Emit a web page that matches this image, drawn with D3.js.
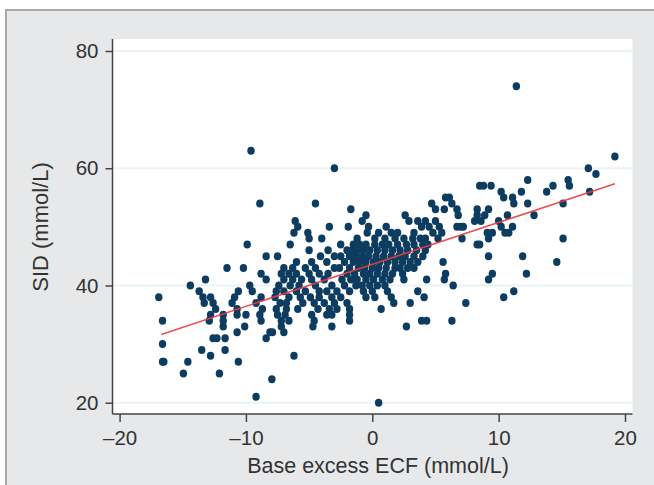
<!DOCTYPE html>
<html>
<head>
<meta charset="utf-8">
<script src="https://cdn.jsdelivr.net/npm/d3@7"></script>
<style>
  body { margin: 0; background: #fff; }
  svg { display: block; }
  text { font-family: "Liberation Sans", Arial, sans-serif; fill: #333; }
</style>
</head>
<body>
<svg></svg>
<script>
// SID levels (mmol/L) and the base excess values observed at each level
const sidLevels = [74, 63, 62, 60, 59, 58, 57, 56, 55, 54, 53, 52, 51, 50, 49, 48, 47, 46, 45, 44,
  43, 42, 41, 40, 39, 38, 37, 36, 35, 34, 33, 32, 31, 30, 29, 28, 27, 25, 24, 21, 20];

const baseExcessAtLevel = [
  [11.4],
  [-9.6],
  [19.2],
  [-3.0, 17.1],
  [17.7],
  [12.3, 15.5],
  [8.5, 8.8, 9.4, 14.3, 15.6],
  [10.2, 11.8, 13.8, 17.2],
  [5.8, 6.1, 10.4, 11.1],
  [-8.9, -4.5, 4.7, 6.3, 11.2, 12.3, 15.1],
  [-1.7, 5.0, 5.7, 6.7, 8.3, 9.2],
  [-0.5, 2.6, 6.8, 8.3, 8.9, 10.7, 12.8],
  [-6.1, -0.8, 2.9, 3.6, 4.2, 5.0, 8.1, 8.6, 10.0],
  [-5.9, -3.4, -1.9, -0.3, 1.1, 3.9, 4.5, 5.3, 6.7, 7.0, 7.2, 10.2, 11.1],
  [-6.2, -5.1, -0.4, 0.5, 1.5, 2.0, 3.3, 4.8, 5.5, 9.1, 9.5, 10.5, 10.8],
  [-5.0, -4.0, -1.2, 0.2, 1.0, 1.8, 2.5, 3.2, 3.8, 4.2, 5.2, 7.1, 9.2, 15.1],
  [-9.9, -6.5, -2.5, -1.5, -1.0, -0.5, 0.2, 0.8, 1.3, 2.0, 2.7, 3.3, 4.0, 4.4, 8.3, 8.5],
  [-5.0, -3.5, -2.0, -1.6, -1.2, -0.7, -0.2, 0.4, 1.0, 1.6, 2.2, 2.8, 3.5, 4.2],
  [-8.4, -7.5, -4.1, -3.0, -2.5, -1.8, -1.3, -0.8, -0.3, 0.3, 0.9, 1.5, 2.1, 2.6, 3.3, 4.0, 9.2, 11.9],
  [-6.0, -4.8, -3.6, -2.2, -1.5, -1.0, -0.5, 0.1, 0.6, 1.2, 1.8, 2.4, 3.0, 3.6, 5.6, 14.6],
  [-11.5, -10.2, -7.0, -6.3, -5.3, -4.5, -3.0, -2.6, -1.8, -1.1, -0.6, 0.0, 0.5, 1.1, 1.8, 2.2, 2.8, 3.3],
  [-8.8, -7.2, -6.6, -6.0, -5.0, -4.2, -3.5, -2.0, -1.4, -0.7, -0.2, 0.4, 1.0, 1.6, 2.4, 5.8, 9.5, 12.2],
  [-13.2, -8.4, -7.0, -6.3, -5.6, -4.8, -3.8, -2.4, -1.7, -1.2, -0.5, 0.1, 0.8, 1.4, 2.5, 4.3, 5.7, 9.2],
  [-14.4, -9.7, -7.4, -6.5, -5.8, -4.5, -3.2, -2.2, -1.3, -0.8, -0.2, 0.4, 1.0, 6.4],
  [-13.7, -10.6, -9.5, -7.6, -7.0, -6.0, -5.3, -4.2, -3.6, -2.8, -1.8, -0.7, 0.0, 1.2, 3.6, 11.2],
  [-16.9, -13.4, -12.8, -10.9, -8.8, -7.7, -6.6, -5.7, -4.9, -4.2, -3.2, -2.5, -0.5, 0.2, 1.5, 4.1, 10.4],
  [-13.3, -12.6, -11.1, -9.2, -7.3, -6.8, -5.5, -4.6, -3.8, -3.0, -2.0, 1.7, 3.0, 7.4],
  [-12.4, -10.7, -8.7, -7.6, -6.8, -5.9, -4.3, -3.4, -2.8, -1.8, 0.7],
  [-12.8, -11.8, -10.7, -10.0, -8.9, -7.5, -6.9, -4.8, -3.6, -3.2, -1.8],
  [-16.6, -12.9, -11.8, -8.8, -7.2, -6.6, -4.6, -1.8, 3.9, 4.3, 6.3],
  [-11.8, -10.1, -7.2, -4.7, -3.2, 2.7],
  [-10.7, -8.1, -7.9, -7.0],
  [-12.6, -12.3, -11.65, -8.4],
  [-16.6],
  [-13.5, -11.65],
  [-12.8, -6.2],
  [-16.6, -16.5, -14.6, -10.6],
  [-14.95, -12.1],
  [-7.95],
  [-9.2],
  [0.5]
];

// linear fit
const fitIntercept = 43.6;
const fitSlope = 0.716;

const xTicks = [-20, -10, 0, 10, 20];
const yTicks = [20, 40, 60, 80];

const width = 654;
const height = 485;

const svg = d3.select("svg")
    .attr("width", width)
    .attr("height", height);

// plot box
const plotLeft = 112.5, plotRight = 632.5, plotTop = 39, plotBottom = 414;

const x = d3.scaleLinear().domain([-20, 20]).range([119.6, 625]);
const y = d3.scaleLinear().domain([20, 80]).range([402.7, 51]);

const points = [];
sidLevels.forEach((s, i) => {
    baseExcessAtLevel[i].forEach(be => points.push({ be: be, sid: s }));
});

// outer grey panel
svg.append("rect")
    .attr("x", 6).attr("y", 10)
    .attr("width", width + 10).attr("height", height + 10)
    .attr("fill", "#e7e8ea")
    .attr("stroke", "#a8a8a8")
    .attr("stroke-width", 2);

svg.append("rect")
    .attr("x", plotLeft).attr("y", plotTop)
    .attr("width", plotRight - plotLeft).attr("height", plotBottom - plotTop)
    .attr("fill", "#fff");

// faint gridlines
svg.append("g")
    .selectAll("line")
    .data(yTicks)
    .join("line")
    .attr("x1", plotLeft).attr("x2", plotRight)
    .attr("y1", d => y(d)).attr("y2", d => y(d))
    .attr("stroke", "#eaf4f7")
    .attr("stroke-width", 2);

// scatter
svg.append("g")
    .selectAll("ellipse")
    .data(points)
    .join("ellipse")
    .attr("cx", d => x(d.be))
    .attr("cy", d => y(d.sid))
    .attr("rx", 3.7)
    .attr("ry", 4)
    .attr("fill", "#0c3d60");

// fitted line
const xExt = d3.extent(points, d => d.be);
svg.append("line")
    .attr("x1", x(xExt[0] + 0.2)).attr("y1", y(fitIntercept + fitSlope * (xExt[0] + 0.2)))
    .attr("x2", x(xExt[1])).attr("y2", y(fitIntercept + fitSlope * xExt[1]))
    .attr("stroke", "#ec3b3e")
    .attr("stroke-opacity", 0.9)
    .attr("stroke-width", 1.6);

// axes
const yAxis = svg.append("g")
    .attr("transform", `translate(${plotLeft},0)`)
    .call(d3.axisLeft(y).tickValues(yTicks).tickSize(7).tickPadding(7));

const xAxis = svg.append("g")
    .attr("transform", `translate(0,${plotBottom})`)
    .call(d3.axisBottom(x).tickValues(xTicks).tickSize(8).tickPadding(8)
        .tickFormat(d => d < 0 ? "\u2013" + Math.abs(d) : d));

[yAxis, xAxis].forEach(g => {
    g.select(".domain").remove();
    g.selectAll(".tick line").attr("stroke", "#444").attr("stroke-width", 1.5);
    g.selectAll(".tick text")
        .attr("fill", "#333")
        .style("font-size", "20.5px")
        .style("font-family", "'Liberation Sans', Arial, sans-serif");
});

svg.append("line")
    .attr("x1", plotLeft).attr("x2", plotLeft)
    .attr("y1", plotTop).attr("y2", plotBottom)
    .attr("stroke", "#444").attr("stroke-width", 1.5);
svg.append("line")
    .attr("x1", plotLeft).attr("x2", plotRight)
    .attr("y1", plotBottom).attr("y2", plotBottom)
    .attr("stroke", "#444").attr("stroke-width", 1.5);

// axis titles
svg.append("text")
    .attr("x", 378).attr("y", 473)
    .attr("text-anchor", "middle")
    .style("font-size", "21.5px")
    .text("Base excess ECF (mmol/L)");

svg.append("text")
    .attr("transform", "translate(48,227) rotate(-90)")
    .attr("text-anchor", "middle")
    .style("font-size", "22px")
    .text("SID (mmol/L)");
</script>
</body>
</html>
